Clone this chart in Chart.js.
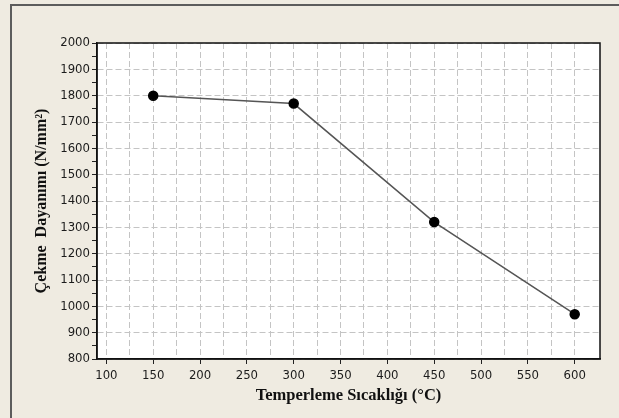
<!DOCTYPE html>
<html>
<head>
<meta charset="utf-8">
<script src="https://cdn.jsdelivr.net/npm/chart.js@4/dist/chart.umd.min.js"></script>
<style>
  html, body { margin: 0; padding: 0; background: #efebe1; overflow: hidden; }
  #frame { position: absolute; left: 10px; top: 4px; width: 700px; height: 500px;
           border-top: 2px solid #5c5c5c; border-left: 2px solid #5c5c5c; }
  #wrap { position: absolute; left: 0; top: 0; width: 619px; height: 418px; }
</style>
</head>
<body>
<div id="frame"></div>
<div id="wrap"><canvas id="chart" width="619" height="418"></canvas></div>
<script>
// measured points
const temps = [150, 300, 450, 600];
const strength = [1800, 1770, 1320, 970];

// axes
const xGrid = [100, 125, 150, 175, 200, 225, 250, 275, 300, 325, 350, 375, 400, 425, 450, 475, 500, 525, 550, 575, 600];
const xLabelStep = 50;
const yGrid = [800, 850, 900, 950, 1000, 1050, 1100, 1150, 1200, 1250, 1300, 1350, 1400, 1450, 1500, 1550, 1600, 1650, 1700, 1750, 1800, 1850, 1900, 1950, 2000];
const yLabelStep = 100;

const xTitle = 'Temperleme Sıcaklığı (°C)';
const yTitle = 'Çekme  Dayanımı (N/mm²)';

const plotBox = {
    id: 'plotBox',
    beforeDraw(chart) {
        const a = chart.chartArea, ctx = chart.ctx;
        ctx.save();
        ctx.fillStyle = '#ffffff';
        ctx.fillRect(a.left, a.top, a.right - a.left, a.bottom - a.top);
        ctx.restore();
    },
    afterDraw(chart) {
        const a = chart.chartArea, ctx = chart.ctx;
        ctx.save();
        ctx.strokeStyle = '#111';
        ctx.lineWidth = 1.5;
        ctx.strokeRect(a.left, a.top, a.right - a.left, a.bottom - a.top);
        ctx.restore();
    }
};

const tickFont = { family: '"DejaVu Sans Condensed", "DejaVu Sans"', size: 13 };

new Chart(document.getElementById('chart'), {
    type: 'scatter',
    data: {
        datasets: [{
            data: temps.map((t, i) => ({ x: t, y: strength[i] })),
            showLine: true,
            borderColor: '#555',
            borderWidth: 1.5,
            pointRadius: 4.5,
            pointBackgroundColor: '#000',
            pointBorderColor: '#000',
            tension: 0
        }]
    },
    options: {
        responsive: false,
        animation: false,
        events: [],
        layout: { padding: { left: 0, top: 43, right: 19, bottom: 0 } },
        plugins: { legend: { display: false }, tooltip: { enabled: false } },
        scales: {
            x: {
                type: 'linear',
                min: 90,
                max: 627,
                afterBuildTicks: s => { s.ticks = xGrid.map(v => ({ value: v })); },
                afterFit: s => { s.height = 59; },
                ticks: {
                    autoSkip: false,
                    maxRotation: 0,
                    padding: 4,
                    color: '#1c1c1c',
                    font: tickFont,
                    callback: v => v % xLabelStep === 0 ? v : ''
                },
                grid: {
                    color: '#c4c4c4',
                    lineWidth: 1,
                    tickLength: 5,
                    tickColor: c => c.tick && c.tick.value % xLabelStep === 0 ? '#222' : 'rgba(0,0,0,0)'
                },
                border: { color: '#111', width: 1.5, dash: [6, 3] },
                title: { display: true, text: xTitle, color: '#111',
                         font: { family: 'Liberation Serif', size: 16.5, weight: 'bold' },
                         padding: { top: 4, bottom: 12 } }
            },
            y: {
                type: 'linear',
                min: 800,
                max: 2000,
                afterBuildTicks: s => { s.ticks = yGrid.map(v => ({ value: v })); },
                afterFit: s => { s.width = 97; },
                ticks: {
                    autoSkip: false,
                    padding: 2,
                    color: '#1c1c1c',
                    font: tickFont,
                    callback: v => v % yLabelStep === 0 ? v : ''
                },
                grid: {
                    color: c => c.tick && c.tick.value % yLabelStep === 0 ? '#c4c4c4' : 'rgba(0,0,0,0)',
                    lineWidth: 1,
                    tickLength: 5,
                    tickColor: '#222'
                },
                border: { color: '#111', width: 1.5, dash: [6, 3] },
                title: { display: true, text: yTitle, color: '#111',
                         font: { family: 'Liberation Serif', size: 16, weight: 'bold' },
                         padding: { top: 32, bottom: 0 } }
            }
        }
    },
    plugins: [plotBox]
});
</script>
</body>
</html>
